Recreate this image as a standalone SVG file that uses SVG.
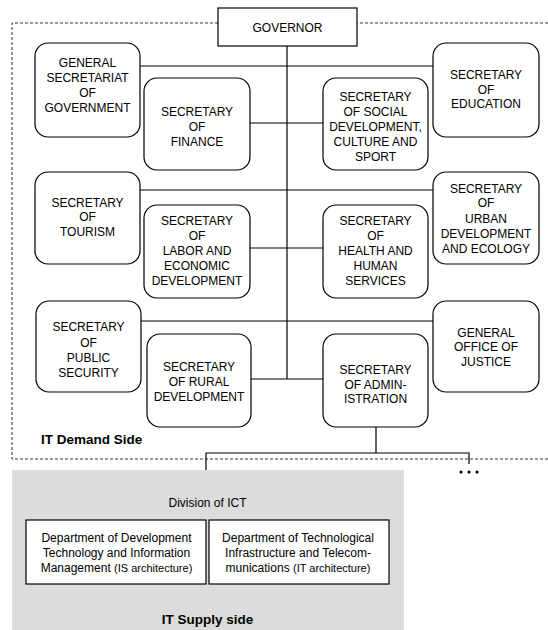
<svg xmlns="http://www.w3.org/2000/svg" width="548" height="630" viewBox="0 0 548 630">
<style>
.b{fill:#fff;stroke:#000;stroke-width:1.2}
.t{font-family:"Liberation Sans",Arial,sans-serif;font-size:12px;text-anchor:middle;fill:#000}
.s{font-size:11px}
.bold{font-family:"Liberation Sans",Arial,sans-serif;font-weight:bold;font-size:13.5px;fill:#000}
.c{stroke:#000;stroke-width:1.2;fill:none}
.d{stroke:#333;stroke-width:1;stroke-dasharray:3,2;fill:none}
</style>
<rect x="12" y="470" width="392" height="160" fill="#dcdcdc"/>
<path class="d" d="M548,23 H12 V459 H548"/>
<g id="connectors">
<path class="c" d="M287,46 V379"/>
<path class="c" d="M140,66 H433"/>
<path class="c" d="M250,123 H323"/>
<path class="c" d="M140,190 H433"/>
<path class="c" d="M250,248 H323"/>
<path class="c" d="M141,321 H433"/>
<path class="c" d="M251,379 H323"/>
<path class="c" d="M376,427 V453 M206,470 V453 H469 V464"/>
<circle cx="461" cy="472" r="1.6"/>
<circle cx="469" cy="472" r="1.6"/>
<circle cx="477" cy="472" r="1.6"/>
</g>
<g id="governor"><rect class="b" x="218" y="8" width="139" height="38"/><text class="t" x="287.5" y="32">GOVERNOR</text></g>
<g id="gensec"><rect class="b" x="35" y="43" width="105" height="94" rx="13"/><text class="t"><tspan x="87.5" y="67">GENERAL</tspan><tspan x="87.5" y="82">SECRETARIAT</tspan><tspan x="87.5" y="97">OF</tspan><tspan x="87.5" y="112">GOVERNMENT</tspan></text></g>
<g id="finance"><rect class="b" x="144" y="78" width="106" height="92" rx="13"/><text class="t"><tspan x="197" y="116">SECRETARY</tspan><tspan x="197" y="131">OF</tspan><tspan x="197" y="146">FINANCE</tspan></text></g>
<g id="social"><rect class="b" x="323" y="78" width="105" height="92" rx="13"/><text class="t"><tspan x="375.5" y="101">SECRETARY</tspan><tspan x="375.5" y="116">OF SOCIAL</tspan><tspan x="375.5" y="131">DEVELOPMENT,</tspan><tspan x="375.5" y="146">CULTURE AND</tspan><tspan x="375.5" y="161">SPORT</tspan></text></g>
<g id="education"><rect class="b" x="433" y="43" width="106" height="94" rx="13"/><text class="t"><tspan x="486" y="79">SECRETARY</tspan><tspan x="486" y="94">OF</tspan><tspan x="486" y="108">EDUCATION</tspan></text></g>
<g id="tourism"><rect class="b" x="35" y="172" width="105" height="92" rx="13"/><text class="t"><tspan x="87.5" y="207">SECRETARY</tspan><tspan x="87.5" y="221">OF</tspan><tspan x="87.5" y="236">TOURISM</tspan></text></g>
<g id="labor"><rect class="b" x="144" y="205" width="106" height="93" rx="13"/><text class="t"><tspan x="197" y="225">SECRETARY</tspan><tspan x="197" y="240">OF</tspan><tspan x="197" y="255">LABOR AND</tspan><tspan x="197" y="270">ECONOMIC</tspan><tspan x="197" y="285">DEVELOPMENT</tspan></text></g>
<g id="health"><rect class="b" x="323" y="205" width="105" height="93" rx="13"/><text class="t"><tspan x="375.5" y="225">SECRETARY</tspan><tspan x="375.5" y="240">OF</tspan><tspan x="375.5" y="255">HEALTH AND</tspan><tspan x="375.5" y="270">HUMAN</tspan><tspan x="375.5" y="285">SERVICES</tspan></text></g>
<g id="urban"><rect class="b" x="433" y="172" width="106" height="92" rx="13"/><text class="t"><tspan x="486" y="193">SECRETARY</tspan><tspan x="486" y="207">OF</tspan><tspan x="486" y="223">URBAN</tspan><tspan x="486" y="238">DEVELOPMENT</tspan><tspan x="486" y="253">AND ECOLOGY</tspan></text></g>
<g id="security"><rect class="b" x="36" y="301" width="105" height="91" rx="13"/><text class="t"><tspan x="88.5" y="331">SECRETARY</tspan><tspan x="88.5" y="347">OF</tspan><tspan x="88.5" y="362">PUBLIC</tspan><tspan x="88.5" y="377">SECURITY</tspan></text></g>
<g id="rural"><rect class="b" x="147" y="334" width="104" height="93" rx="13"/><text class="t"><tspan x="199" y="371">SECRETARY</tspan><tspan x="199" y="386">OF RURAL</tspan><tspan x="199" y="401">DEVELOPMENT</tspan></text></g>
<g id="admin"><rect class="b" x="323" y="334" width="105" height="93" rx="13"/><text class="t"><tspan x="375.5" y="374">SECRETARY</tspan><tspan x="375.5" y="389">OF ADMIN-</tspan><tspan x="375.5" y="403">ISTRATION</tspan></text></g>
<g id="justice"><rect class="b" x="433" y="301" width="106" height="91" rx="13"/><text class="t"><tspan x="486" y="337">GENERAL</tspan><tspan x="486" y="351">OFFICE OF</tspan><tspan x="486" y="366">JUSTICE</tspan></text></g>
<text class="bold" x="41" y="444">IT Demand Side</text>
<g id="ict"><text class="t" x="207.5" y="507">Division of ICT</text></g>
<g id="dept1"><rect class="b" x="26" y="520" width="180" height="64"/><text class="t"><tspan x="116.5" y="542">Department of Development</tspan><tspan x="116.5" y="557">Technology and Information</tspan><tspan x="116.5" y="572">Management <tspan class="s">(IS architecture)</tspan></tspan></text></g>
<g id="dept2"><rect class="b" x="209" y="520" width="180" height="64"/><text class="t"><tspan x="298" y="542">Department of Technological</tspan><tspan x="298" y="557">Infrastructure and Telecom-</tspan><tspan x="298" y="572">munications  <tspan class="s">(IT architecture)</tspan></tspan></text></g>
<text class="bold" x="207.5" y="624" text-anchor="middle">IT Supply side</text>
</svg>
